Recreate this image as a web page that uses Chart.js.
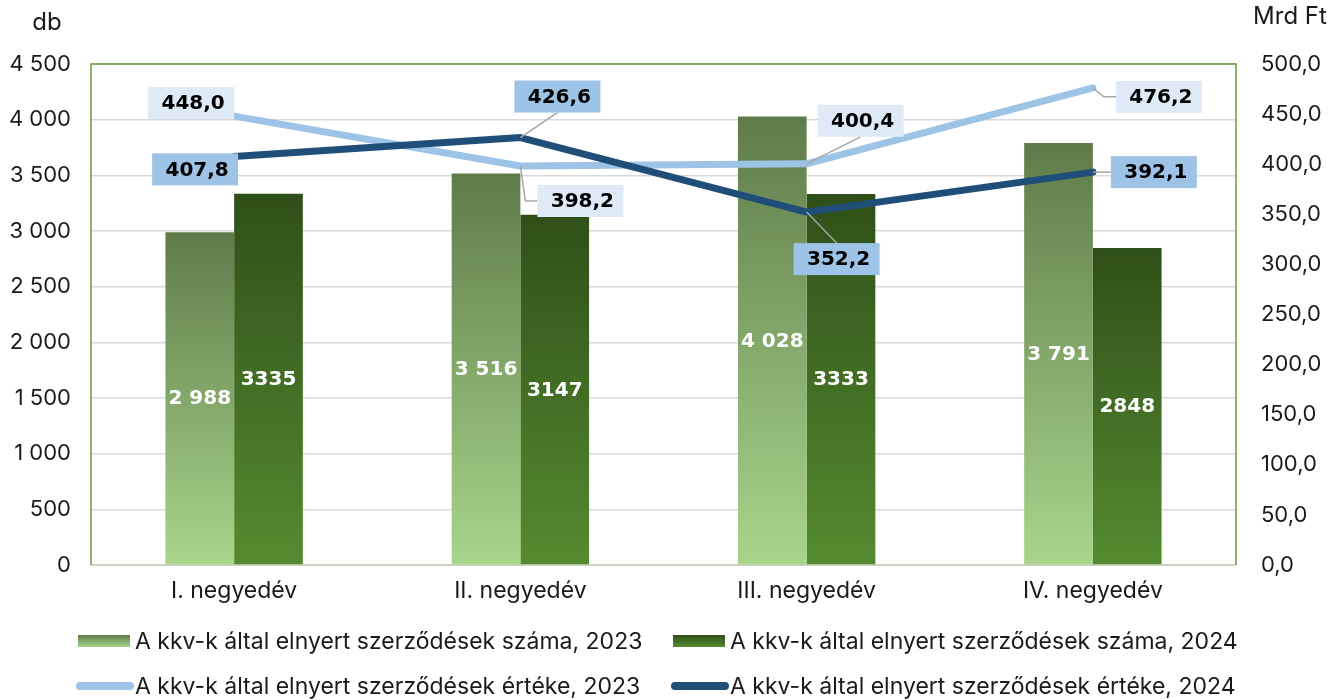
<!DOCTYPE html>
<html lang="hu">
<head>
    <meta charset="UTF-8">
    <title>Kkv-k által elnyert szerződések</title>
    <script src="https://cdn.jsdelivr.net/npm/chart.js"></script>
    <style>
        body { margin: 0; background: #fff; }
        #chartContainer { width: 1343px; height: 700px; }
    </style>
</head>
<body>
    <div id="chartContainer">
        <canvas id="kkvChart" width="1343" height="700"></canvas>
    </div>

    <script>
        // data
        const quarters = ['I. negyedév', 'II. negyedév', 'III. negyedév', 'IV. negyedév'];
        const count2023 = [2988, 3516, 4028, 3791];
        const count2024 = [3335, 3147, 3333, 2848];
        const value2023 = [448.0, 398.2, 400.4, 476.2];
        const value2024 = [407.8, 426.6, 352.2, 392.1];

        const seriesNames = [
            'A kkv-k által elnyert szerződések száma, 2023',
            'A kkv-k által elnyert szerződések száma, 2024',
            'A kkv-k által elnyert szerződések értéke, 2023',
            'A kkv-k által elnyert szerződések értéke, 2024'
        ];

        const tickFont = { family: 'Inter', size: 22 };
        const labelFont = 'bold 20px "DejaVu Sans"';

        // where each line label box sits relative to its point (dx, dy of box centre)
        const lineLabelPlacement = {
            2: [[-43, -13, 'none'], [60, 35, 'elbow'], [54, -43, 'bottom'], [66, 9, 'elbow']],
            3: [[-39, 13, 'none'], [37, -41, 'bottom'], [30, 47, 'top'], [61, 0, 'left']]
        };

        const fmtSpace = v => String(v).replace(/\B(?=(\d{3})+(?!\d))/g, ' ');
        const fmtComma = v => v.toFixed(1).replace('.', ',');

        function barGradient(top, bottom) {
            return function (c) {
                const chart = c.chart;
                if (!chart.chartArea || c.dataIndex === undefined) return bottom;
                const ys = chart.scales.y;
                const y0 = ys.getPixelForValue(c.dataset.data[c.dataIndex]);
                const y1 = ys.getPixelForValue(0);
                const g = chart.ctx.createLinearGradient(0, y0, 0, y1);
                g.addColorStop(0, top);
                g.addColorStop(1, bottom);
                return g;
            };
        }

        const plotFrame = {
            id: 'plotFrame',
            beforeDatasetsDraw(chart) {
                const { ctx, chartArea: a } = chart;
                ctx.save();
                ctx.strokeStyle = '#c9d3c2';
                ctx.lineWidth = 2;
                ctx.beginPath();
                ctx.moveTo(a.left, a.bottom);
                ctx.lineTo(a.right, a.bottom);
                ctx.stroke();
                ctx.strokeStyle = '#6b9b40';
                ctx.lineWidth = 1.5;
                ctx.beginPath();
                ctx.moveTo(a.left, a.bottom);
                ctx.lineTo(a.left, a.top);
                ctx.lineTo(a.right, a.top);
                ctx.lineTo(a.right, a.bottom);
                ctx.stroke();
                ctx.restore();
            }
        };

        const valueLabels = {
            id: 'valueLabels',
            afterDatasetsDraw(chart) {
                const ctx = chart.ctx;
                ctx.save();
                ctx.font = labelFont;
                ctx.textAlign = 'center';
                ctx.textBaseline = 'middle';

                // bar values, white, centred in the bar
                [0, 1].forEach(di => {
                    const meta = chart.getDatasetMeta(di);
                    const data = chart.data.datasets[di].data;
                    meta.data.forEach((bar, i) => {
                        const txt = di === 0 ? fmtSpace(data[i]) : String(data[i]);
                        ctx.fillStyle = '#ffffff';
                        ctx.fillText(txt, bar.x, (bar.y + bar.base) / 2 + 1);
                    });
                });

                // line values in boxes with leader lines
                [2, 3].forEach(di => {
                    const meta = chart.getDatasetMeta(di);
                    const data = chart.data.datasets[di].data;
                    const fill = di === 2 ? '#deeaf6' : '#9dc3e6';
                    meta.data.forEach((pt, i) => {
                        const [dx, dy, lead] = lineLabelPlacement[di][i];
                        const w = 86, h = 32;
                        const cx = pt.x + dx, cy = pt.y + dy;
                        const l = cx - w / 2, t = cy - h / 2;
                        ctx.strokeStyle = '#a6a6a6';
                        ctx.lineWidth = 1.5;
                        ctx.beginPath();
                        if (lead === 'elbow') {
                            ctx.moveTo(pt.x, pt.y);
                            ctx.lineTo(l - 12, cy);
                            ctx.lineTo(l, cy);
                        } else if (lead === 'bottom') {
                            ctx.moveTo(pt.x, pt.y);
                            ctx.lineTo(cx, t + h);
                        } else if (lead === 'top') {
                            ctx.moveTo(pt.x, pt.y);
                            ctx.lineTo(cx, t);
                        } else if (lead === 'left') {
                            ctx.moveTo(pt.x, pt.y);
                            ctx.lineTo(l, cy);
                        }
                        ctx.stroke();
                        ctx.fillStyle = fill;
                        ctx.fillRect(l, t, w, h);
                        ctx.fillStyle = '#000000';
                        ctx.fillText(fmtComma(data[i]), cx + 2, cy + 1);
                    });
                });
                ctx.restore();
            }
        };

        const extras = {
            id: 'extras',
            afterDraw(chart) {
                const ctx = chart.ctx;
                ctx.save();
                ctx.fillStyle = '#1a1a1a';
                ctx.textBaseline = 'middle';
                ctx.font = '24px Inter';
                ctx.textAlign = 'center';
                ctx.fillText('db', 47, 23);
                ctx.fillText('Mrd Ft', 1290, 17);

                // legend, 2 x 2
                const rows = [641, 686];
                ctx.font = '23px Inter';
                ctx.textAlign = 'left';
                seriesNames.forEach((name, i) => {
                    const col = i % 2, y = rows[Math.floor(i / 2)];
                    const sx = col === 0 ? 78 : 673;
                    const tx = col === 0 ? 135 : 730;
                    if (i < 2) {
                        const g = ctx.createLinearGradient(0, y - 6, 0, y + 6);
                        g.addColorStop(0, i === 0 ? '#5f7b4a' : '#2f4f18');
                        g.addColorStop(1, i === 0 ? '#a8d58a' : '#558b30');
                        ctx.fillStyle = g;
                        ctx.fillRect(sx, y - 6, 52, 12);
                    } else {
                        ctx.strokeStyle = i === 2 ? '#9dc3e6' : '#1f4e79';
                        ctx.lineWidth = 8;
                        ctx.lineCap = 'round';
                        ctx.beginPath();
                        ctx.moveTo(sx + 2, y);
                        ctx.lineTo(sx + 52, y);
                        ctx.stroke();
                    }
                    ctx.fillStyle = '#1a1a1a';
                    ctx.fillText(name, tx, y + 1);
                });
                ctx.restore();
            }
        };

        const ctx = document.getElementById('kkvChart').getContext('2d');
        new Chart(ctx, {
            type: 'bar',
            data: {
                labels: quarters,
                datasets: [
                    {
                        label: seriesNames[0],
                        data: count2023,
                        backgroundColor: barGradient('#5f7b4a', '#a8d58a'),
                        yAxisID: 'y',
                        order: 2
                    },
                    {
                        label: seriesNames[1],
                        data: count2024,
                        backgroundColor: barGradient('#2f4f18', '#558b30'),
                        yAxisID: 'y',
                        order: 3
                    },
                    {
                        type: 'line',
                        label: seriesNames[2],
                        data: value2023,
                        borderColor: '#9dc3e6',
                        borderWidth: 7,
                        pointRadius: 0,
                        borderCapStyle: 'round',
                        borderJoinStyle: 'round',
                        yAxisID: 'y1',
                        order: 1
                    },
                    {
                        type: 'line',
                        label: seriesNames[3],
                        data: value2024,
                        borderColor: '#1f4e79',
                        borderWidth: 7,
                        pointRadius: 0,
                        borderCapStyle: 'round',
                        borderJoinStyle: 'round',
                        yAxisID: 'y1',
                        order: 0
                    }
                ]
            },
            options: {
                responsive: false,
                animation: false,
                layout: { padding: { top: 64, bottom: 95, left: 0, right: 0 } },
                datasets: {
                    bar: { categoryPercentage: 0.48, barPercentage: 1.0 }
                },
                plugins: {
                    legend: { display: false },
                    tooltip: { enabled: false }
                },
                scales: {
                    x: {
                        grid: { display: false },
                        border: { display: false },
                        ticks: { font: { family: 'Inter', size: 23 }, color: '#1a1a1a', padding: 4 },
                        afterFit(s) { s.height = 40; }
                    },
                    y: {
                        position: 'left',
                        min: 0,
                        max: 4500,
                        ticks: {
                            stepSize: 500,
                            font: tickFont,
                            color: '#1a1a1a',
                            padding: 20,
                            callback: v => fmtSpace(v)
                        },
                        grid: { color: '#d9d9d9', lineWidth: 1.5, drawTicks: false },
                        border: { display: false },
                        afterFit(s) { s.width = 91; }
                    },
                    y1: {
                        position: 'right',
                        min: 0,
                        max: 500,
                        ticks: {
                            stepSize: 50,
                            font: tickFont,
                            color: '#1a1a1a',
                            padding: 25,
                            callback: v => fmtComma(v)
                        },
                        grid: { display: false, drawTicks: false },
                        border: { display: false },
                        afterFit(s) { s.width = 107; }
                    }
                }
            },
            plugins: [plotFrame, valueLabels, extras]
        });
    </script>
</body>
</html>
